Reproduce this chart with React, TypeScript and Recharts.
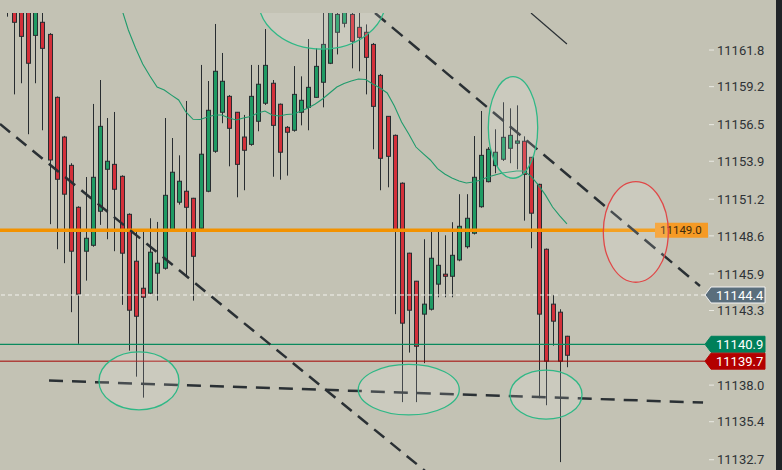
import React from 'react';
import { ComposedChart, Bar, Line, XAxis, YAxis, ReferenceLine, ReferenceDot } from 'recharts';

const opens = [
  11165.6, 11165.3, 11164.9, 11165.2, 11162.84, 11163.77, 11162.91, 11158.44, 11155.62, 11153.61,
  11150.63, 11147.51, 11147.93, 11150.35, 11153.33, 11153.68, 11152.83, 11150.13, 11146.8, 11144.88,
  11144.53, 11145.95, 11146.3, 11148.95, 11150.99, 11151.77, 11151.27, 11149.14, 11151.77, 11154.61,
  11157.38, 11158.51, 11157.38, 11155.62, 11155.1, 11156.74, 11158.02, 11159.44, 11157.95, 11156.31,
  11156.1, 11157.38, 11157.73, 11158.44, 11159.51, 11160.86, 11163.06, 11163.7, 11164.33, 11163.41,
  11163.06, 11162.2, 11160.0, 11157.09, 11155.74, 11152.34, 11147.37, 11145.38, 11143.04, 11143.39,
  11145.17, 11145.88, 11145.73, 11146.89, 11147.83, 11148.79, 11150.67, 11152.45, 11153.59, 11154.04,
  11154.82, 11155.18, 11155.32, 11154.18, 11152.26, 11147.65, 11143.75, 11143.18, 11141.47,
];

const highs = [
  11166.0, 11165.8, 11165.4, 11165.6, 11165.5, 11165.0, 11163.0, 11158.5, 11155.7, 11153.76,
  11150.7, 11152.78, 11157.97, 11159.67, 11156.97, 11157.4, 11152.9, 11150.2, 11148.88, 11148.88,
  11149.85, 11149.59, 11156.97, 11155.55, 11154.32, 11158.18, 11151.3, 11160.74, 11159.6, 11163.65,
  11161.59, 11158.6, 11157.4, 11157.19, 11160.74, 11160.74, 11163.29, 11159.67, 11158.0, 11156.4,
  11160.66, 11159.93, 11162.58, 11161.92, 11164.8, 11165.3, 11164.8, 11165.0, 11164.9, 11164.8,
  11163.62, 11162.3, 11160.1, 11157.1, 11155.8, 11152.4, 11147.4, 11145.4, 11148.36, 11149.0,
  11149.0, 11148.64, 11149.57, 11151.56, 11151.56, 11155.69, 11157.47, 11154.9, 11156.17, 11158.09,
  11157.66, 11157.87, 11155.67, 11154.2, 11152.3, 11147.7, 11144.38, 11143.39, 11141.5,
];

const lows = [
  11164.17, 11158.65, 11159.44, 11155.82, 11159.44, 11156.1, 11149.43, 11147.65, 11146.66, 11143.18,
  11140.93, 11145.42, 11147.83, 11149.38, 11148.36, 11147.51, 11143.7, 11140.45, 11138.6, 11137.11,
  11144.45, 11144.0, 11146.2, 11148.9, 11150.82, 11145.7, 11144.0, 11149.1, 11151.7, 11154.5,
  11156.6, 11153.54, 11151.34, 11151.84, 11155.0, 11156.03, 11157.9, 11152.8, 11152.59, 11152.88,
  11156.0, 11156.45, 11156.1, 11158.4, 11157.73, 11160.8, 11161.49, 11163.41, 11160.5, 11160.29,
  11158.65, 11154.75, 11151.84, 11152.05, 11143.04, 11136.79, 11140.31, 11136.79, 11139.56, 11143.3,
  11144.24, 11144.24, 11144.24, 11146.8, 11147.7, 11148.7, 11150.6, 11152.4, 11153.05, 11153.92,
  11153.76, 11153.33, 11149.68, 11147.72, 11137.07, 11136.57, 11140.8, 11132.53, 11139.27,
];

const closes = [
  11164.9, 11163.77, 11162.77, 11160.86, 11164.9, 11161.92, 11153.99, 11152.62, 11151.56, 11147.51,
  11144.46, 11148.43, 11152.76, 11156.38, 11153.9, 11151.91, 11147.37, 11143.32, 11142.89, 11144.24,
  11147.44, 11146.66, 11151.48, 11153.12, 11152.48, 11150.63, 11147.15, 11154.4, 11157.52, 11160.29,
  11159.58, 11156.24, 11153.68, 11154.68, 11158.51, 11159.37, 11160.71, 11156.45, 11154.54, 11155.96,
  11158.65, 11158.23, 11159.15, 11160.64, 11162.2, 11165.0, 11164.33, 11164.6, 11162.42, 11162.7,
  11161.28, 11157.8, 11154.11, 11154.25, 11149.0, 11142.4, 11143.32, 11140.76, 11143.75, 11147.01,
  11146.51, 11145.73, 11147.22, 11149.28, 11149.85, 11152.76, 11154.32, 11154.75, 11154.54, 11155.6,
  11155.74, 11155.34, 11152.97, 11150.21, 11143.04, 11139.7, 11142.54, 11139.7, 11140.12,
];

// moving average, starts where it enters the visible area
const maValues: (number | null)[] = [
  null, null, null, null, null, null, null, null, null, null, null, null, null, null, null, null,
  11164.85, 11163.22, 11161.94, 11160.81, 11159.95, 11159.17, 11158.96, 11158.6, 11158.25, 11157.4,
  11156.88, 11156.87, 11157.04, 11157.19, 11157.19, 11156.97, 11156.83, 11156.97, 11157.08, 11157.33,
  11157.47, 11157.19, 11157.11, 11157.22, 11157.26, 11157.47, 11157.68, 11157.97, 11158.32, 11158.75,
  11159.17, 11159.42, 11159.6, 11159.74, 11159.71, 11159.39, 11159.1, 11158.75, 11157.82, 11156.69,
  11155.84, 11154.91, 11154.44, 11153.99, 11153.38, 11153.0, 11152.71, 11152.5, 11152.36, 11152.43,
  11152.57, 11152.78, 11152.93, 11153.07, 11153.14, 11153.21, 11153.21, 11152.85, 11152.22, 11151.51,
  11150.65, 11150.02, 11149.45,
];

const priceTicks = [
  11132.7, 11135.4, 11138.0, 11143.3, 11145.9, 11148.6, 11151.2, 11153.9, 11156.5, 11159.2, 11161.8,
];

const alertLevel = 11149.0;
const lastPrice = 11144.4;
const bidPrice = 11140.9;
const askPrice = 11139.7;

const trendLines = [
  { from: { x: -0.85, y: 11156.55 }, to: { x: 58.26, y: 11131.91 }, dash: '13 8' },
  { from: { x: 51.31, y: 11164.43 }, to: { x: 96.5, y: 11145.04 }, dash: '14 8' },
  { from: { x: 5.97, y: 11138.32 }, to: { x: 96.93, y: 11136.76 }, dash: '14 9' },
];
const thinLine = { from: { x: 73.0, y: 11164.43 }, to: { x: 78.0, y: 11162.23 } };

const zones = [
  { x: 18.48, y: 11138.3, rx: 40, ry: 29, color: '#2fb886' },
  { x: 56.0, y: 11137.68, rx: 50.5, ry: 25.3, color: '#2fb886' },
  { x: 75.09, y: 11137.32, rx: 36, ry: 24.5, color: '#2fb886' },
  { x: 43.94, y: 11165.35, rx: 63.5, ry: 49, color: '#2fb886' },
  { x: 70.5, y: 11156.3, rx: 24.7, ry: 50.8, color: '#2fb886' },
  { x: 87.58, y: 11148.88, rx: 32.5, ry: 50.3, color: '#e04848' },
];

const candles = opens.map((o, i) => ({
  i,
  o,
  h: highs[i],
  l: lows[i],
  c: closes[i],
  range: [lows[i], highs[i]],
  ma: maValues[i],
}));

const W = 782;
const H = 470;
const TOP = 13;
const AXIS_W = 71;
const BORDER = 6;
const UP = '#1f9a63';
const DOWN = '#d3303a';
const INK = '#272c30';
const FONT = 'Roboto, "Noto Sans", sans-serif';

const Candle = (props: any) => {
  const { x, y, width, height, payload } = props;
  const { o, h, l, c } = payload;
  const cx = Math.round(x + width / 2) + 0.5;
  const py = (v: number) => y + ((h - v) / (h - l)) * height;
  const top = py(Math.max(o, c));
  const bot = py(Math.min(o, c));
  return (
    <g>
      <line x1={cx} x2={cx} y1={y} y2={y + height} stroke={INK} strokeWidth={1} />
      <rect
        x={cx - 2}
        y={top}
        width={4}
        height={Math.max(bot - top, 1)}
        fill={c >= o ? UP : DOWN}
        stroke={INK}
        strokeWidth={1}
      />
    </g>
  );
};

const PriceTick = (props: any) => {
  const { x, y, payload } = props;
  return (
    <g>
      <line x1={x + 4} x2={x + 9} y1={y} y2={y} stroke="#e9e9e2" strokeWidth={1} />
      <text x={x + 12} y={y} dy="0.36em" fontSize={13} fontFamily={FONT} fill="#2e3236">
        {payload.value.toFixed(1)}
      </text>
    </g>
  );
};

const tag = (text: string, fill: string, border?: string) => (props: any) => {
  const vb = props.viewBox;
  const x0 = vb.x + vb.width;
  const y = vb.y;
  const pts = `${x0},${y} ${x0 + 6},${y - 8} ${x0 + 60},${y - 8} ${x0 + 60},${y + 8} ${x0 + 6},${y + 8}`;
  return (
    <g>
      <polygon points={pts} fill={fill} stroke={border || fill} strokeWidth={1} />
      <text x={x0 + 11} y={y} dy="0.36em" fontSize={13} fontFamily={FONT} fill="#ffffff">
        {text}
      </text>
    </g>
  );
};

const alertTag = (props: any) => {
  const vb = props.viewBox;
  const x0 = vb.x + vb.width;
  const y = vb.y;
  return (
    <g>
      <rect x={x0 - 50} y={y - 7.5} width={53} height={15} fill="#f59a25" />
      <text x={x0 - 45} y={y} dy="0.36em" fontSize={11.5} fontFamily={FONT} fill="#3d2b0c">
        {alertLevel.toFixed(1)}
      </text>
    </g>
  );
};

const zoneShape = (z: any, k: number) => (props: any) => {
  const { cx, cy } = props;
  const id = `zone-clip-${k}`;
  return (
    <g>
      <defs>
        <clipPath id={id}>
          <rect x={0} y={TOP} width={W - AXIS_W - BORDER} height={H - TOP} />
        </clipPath>
      </defs>
      <ellipse
        cx={cx}
        cy={cy}
        rx={z.rx}
        ry={z.ry}
        fill="rgba(255,255,255,0.14)"
        stroke={z.color}
        strokeWidth={1.3}
        clipPath={`url(#${id})`}
      />
    </g>
  );
};

export default function App() {
  return (
    <div style={{ position: 'fixed', left: 0, top: 0, width: W, height: H, background: '#c3c2b4' }}>
      <div style={{ position: 'absolute', left: W - BORDER, top: 0, width: BORDER, height: H, background: '#202428' }} />
      <ComposedChart
        width={W - BORDER}
        height={H}
        data={candles}
        margin={{ top: TOP, right: 0, bottom: 0, left: 0 }}
      >
        <XAxis dataKey="i" type="number" domain={[-0.848, 97.2]} hide allowDataOverflow />
        <YAxis
          orientation="right"
          domain={[11131.97, 11164.43]}
          ticks={priceTicks}
          interval={0}
          allowDataOverflow
          width={AXIS_W}
          axisLine={false}
          tickLine={false}
          tickSize={0}
          tickMargin={0}
          tick={<PriceTick />}
        />
        <ReferenceLine y={alertLevel} stroke="#f39200" strokeWidth={3.5} label={alertTag} />
        <ReferenceLine
          y={lastPrice}
          stroke="#f2f2ee"
          strokeWidth={1}
          strokeDasharray="4 3"
          label={tag(lastPrice.toFixed(1), '#5a6e7c', '#f4f4f4')}
        />
        <ReferenceLine y={bidPrice} stroke="#0a8a5e" strokeWidth={1.2} label={tag(bidPrice.toFixed(1), '#00805a')} />
        <ReferenceLine y={askPrice} stroke="#a30000" strokeWidth={1} label={tag(askPrice.toFixed(1), '#b30000')} />
        <Line
          dataKey="ma"
          stroke="#1f9b6c"
          strokeWidth={1.1}
          dot={false}
          activeDot={false}
          isAnimationActive={false}
        />
        <Bar dataKey="range" barSize={6} shape={<Candle />} isAnimationActive={false} />
        {trendLines.map((t, k) => (
          <ReferenceLine
            key={`t${k}`}
            segment={[t.from, t.to]}
            stroke="#2a3034"
            strokeWidth={2.5}
            strokeDasharray={t.dash}
            ifOverflow="hidden"
          />
        ))}
        <ReferenceLine segment={[thinLine.from, thinLine.to]} stroke="#2a3034" strokeWidth={1.2} ifOverflow="hidden" />
        {zones.map((z, k) => (
          <ReferenceDot key={`z${k}`} x={z.x} y={z.y} ifOverflow="visible" shape={zoneShape(z, k)} />
        ))}
      </ComposedChart>
    </div>
  );
}
